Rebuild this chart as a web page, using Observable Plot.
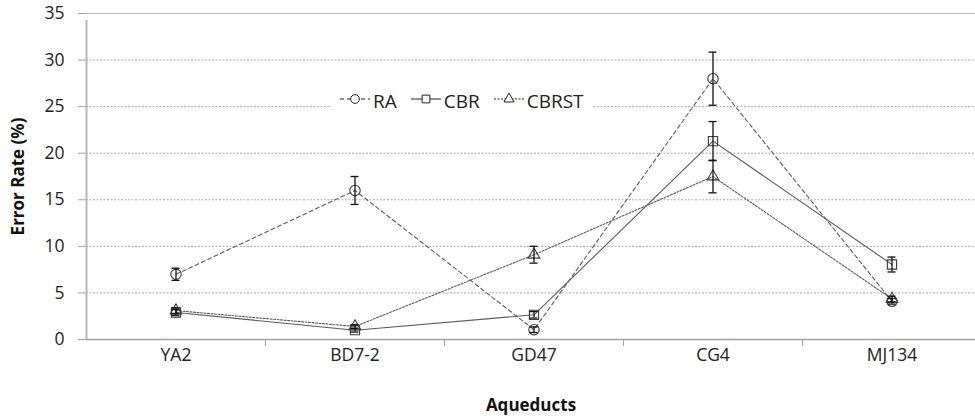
<!DOCTYPE html>
<html>
<head>
<meta charset="utf-8">
<script src="https://cdn.jsdelivr.net/npm/d3@7"></script>
<script src="https://cdn.jsdelivr.net/npm/@observablehq/plot@0.6"></script>
<style>
  html, body { margin: 0; padding: 0; background: #fff; }
  #wrap { position: relative; width: 975px; height: 418px; font-family: "Open Sans", sans-serif; }
  #legend { position: absolute; left: 330px; top: 88px; height: 26px; padding: 0 8px 0 10px;
            background: #fff; display: flex; align-items: center; gap: 14px; font-size: 19px; color: #222; }
  #legend .item { display: flex; align-items: center; gap: 3px; }
  #legend svg { display: block; }
</style>
</head>
<body>
<div id="wrap"><div id="legend"></div></div>
<script>
// ---- data ----
const categories = ["YA2", "BD7-2", "GD47", "CG4", "MJ134"];
const seriesNames = ["RA", "CBR", "CBRST"];
const raValues    = [7.0, 16.0, 1.05, 28.0, 4.1];
const raErrors    = [0.65, 1.5, 0.3, 2.85, 0.3];
const cbrValues   = [2.9, 1.0, 2.65, 21.3, 8.05];
const cbrErrors   = [0.3, 0.2, 0.35, 2.1, 0.8];
const cbrstValues = [3.1, 1.4, 9.1, 17.5, 4.35];
const cbrstErrors = [0.3, 0.2, 0.9, 1.75, 0.3];
const yTicks = [0, 5, 10, 15, 20, 25, 30, 35];
const xTitle = "Aqueducts";
const yTitle = "Error Rate (%)";

// ---- build table ----
const valueSets = [raValues, cbrValues, cbrstValues];
const errorSets = [raErrors, cbrErrors, cbrstErrors];
const rows = [];
seriesNames.forEach((s, k) => {
  categories.forEach((c, i) => {
    rows.push({series: s, cat: c, i, value: valueSets[k][i], lo: valueSets[k][i] - errorSets[k][i], hi: valueSets[k][i] + errorSets[k][i]});
  });
});
const styles = {
  RA:    {dash: "4,3", symbol: "circle", r: 5.2},
  CBR:   {dash: null,  symbol: "square", r: 5.2},
  CBRST: {dash: "2,1.5", symbol: "triangle", r: 4.3}
};
const idx = categories.map((_, i) => i);
const bounds = categories.slice(1).map((_, i) => i + 0.5);
const left = -0.5;

const marks = [];
// grid
marks.push(Plot.ruleY(yTicks.filter(v => v > 0 && v < 35), {y: d => d, stroke: "#a8a8a8", strokeDasharray: "2,1.5", strokeWidth: 1}));
marks.push(Plot.ruleY([35], {stroke: "#bdbdbd", strokeWidth: 1}));
// y ticks
marks.push(Plot.ruleY(yTicks, {y: d => d, x1: left, x2: left, insetLeft: -8, stroke: "#a0a0a0", strokeWidth: 1}));
// axis lines
marks.push(Plot.ruleY([0], {stroke: "#a0a0a0", strokeWidth: 1.5}));
marks.push(Plot.ruleX([left], {y1: 0, y2: 35, insetBottom: -7, stroke: "#b8b8b8", strokeWidth: 2}));
marks.push(Plot.ruleX(bounds, {x: d => d, y1: 0, y2: 0, insetBottom: -7, stroke: "#a0a0a0", strokeWidth: 1}));
// series
seriesNames.forEach(s => {
  const data = rows.filter(r => r.series === s);
  marks.push(Plot.line(data, {x: "i", y: "value", stroke: "#5a5a5a", strokeWidth: 1.1, strokeDasharray: styles[s].dash}));
});
seriesNames.forEach(s => {
  const data = rows.filter(r => r.series === s);
  marks.push(Plot.dot(data, {x: "i", y: "value", symbol: () => styles[s].symbol, r: styles[s].r, fill: "none", stroke: "#3a3a3a", strokeWidth: 1.1}));
});
// error bars
marks.push(Plot.ruleX(rows, {x: "i", y1: "lo", y2: "hi", stroke: "#111", strokeWidth: 1.3}));
marks.push(Plot.ruleY(rows, {y: "hi", x1: "i", x2: "i", insetLeft: -4, insetRight: -4, stroke: "#111", strokeWidth: 1.3}));
marks.push(Plot.ruleY(rows, {y: "lo", x1: "i", x2: "i", insetLeft: -4, insetRight: -4, stroke: "#111", strokeWidth: 1.3}));
// titles
marks.push(Plot.text([yTitle], {frameAnchor: "left", dx: -68, rotate: -90, textAnchor: "middle", lineAnchor: "middle", fontWeight: "bold", fontSize: 17, fill: "#111"}));
marks.push(Plot.text([xTitle], {frameAnchor: "bottom", dy: 66, textAnchor: "middle", lineAnchor: "middle", fontWeight: "bold", fontSize: 17, fill: "#111"}));

const chart = Plot.plot({
  width: 975,
  height: 418,
  marginTop: 13,
  marginBottom: 79,
  marginLeft: 86,
  marginRight: 0,
  style: {fontFamily: "'Open Sans', sans-serif", fontSize: "17.5px", color: "#222", background: "#fff"},
  x: {type: "linear", domain: [-0.5, categories.length - 0.5], range: [86, 981], ticks: idx,
      tickFormat: i => categories[i], tickSize: 0, tickPadding: 9, label: null},
  y: {domain: [0, 35], ticks: yTicks, tickSize: 0, tickPadding: 22, label: null},
  marks
});
document.getElementById("wrap").appendChild(chart);

// ---- legend ----
const legend = d3.select("#legend");
const symMap = {circle: d3.symbolCircle, square: d3.symbolSquare, triangle: d3.symbolTriangle};
seriesNames.forEach(s => {
  const item = legend.append("div").attr("class", "item");
  const svg = item.append("svg").attr("width", 30).attr("height", 16);
  svg.append("line").attr("x1", 0).attr("x2", 30).attr("y1", 6).attr("y2", 6)
     .attr("stroke", "#222").attr("stroke-width", 1).attr("stroke-dasharray", styles[s].dash);
  svg.append("path").attr("transform", "translate(15,6)")
     .attr("d", d3.symbol(symMap[styles[s].symbol], styles[s].symbol === "triangle" ? 45 : 60)())
     .attr("fill", "#fff").attr("stroke", "#222").attr("stroke-width", 1);
  item.append("span").text(s);
});
</script>
</body>
</html>
